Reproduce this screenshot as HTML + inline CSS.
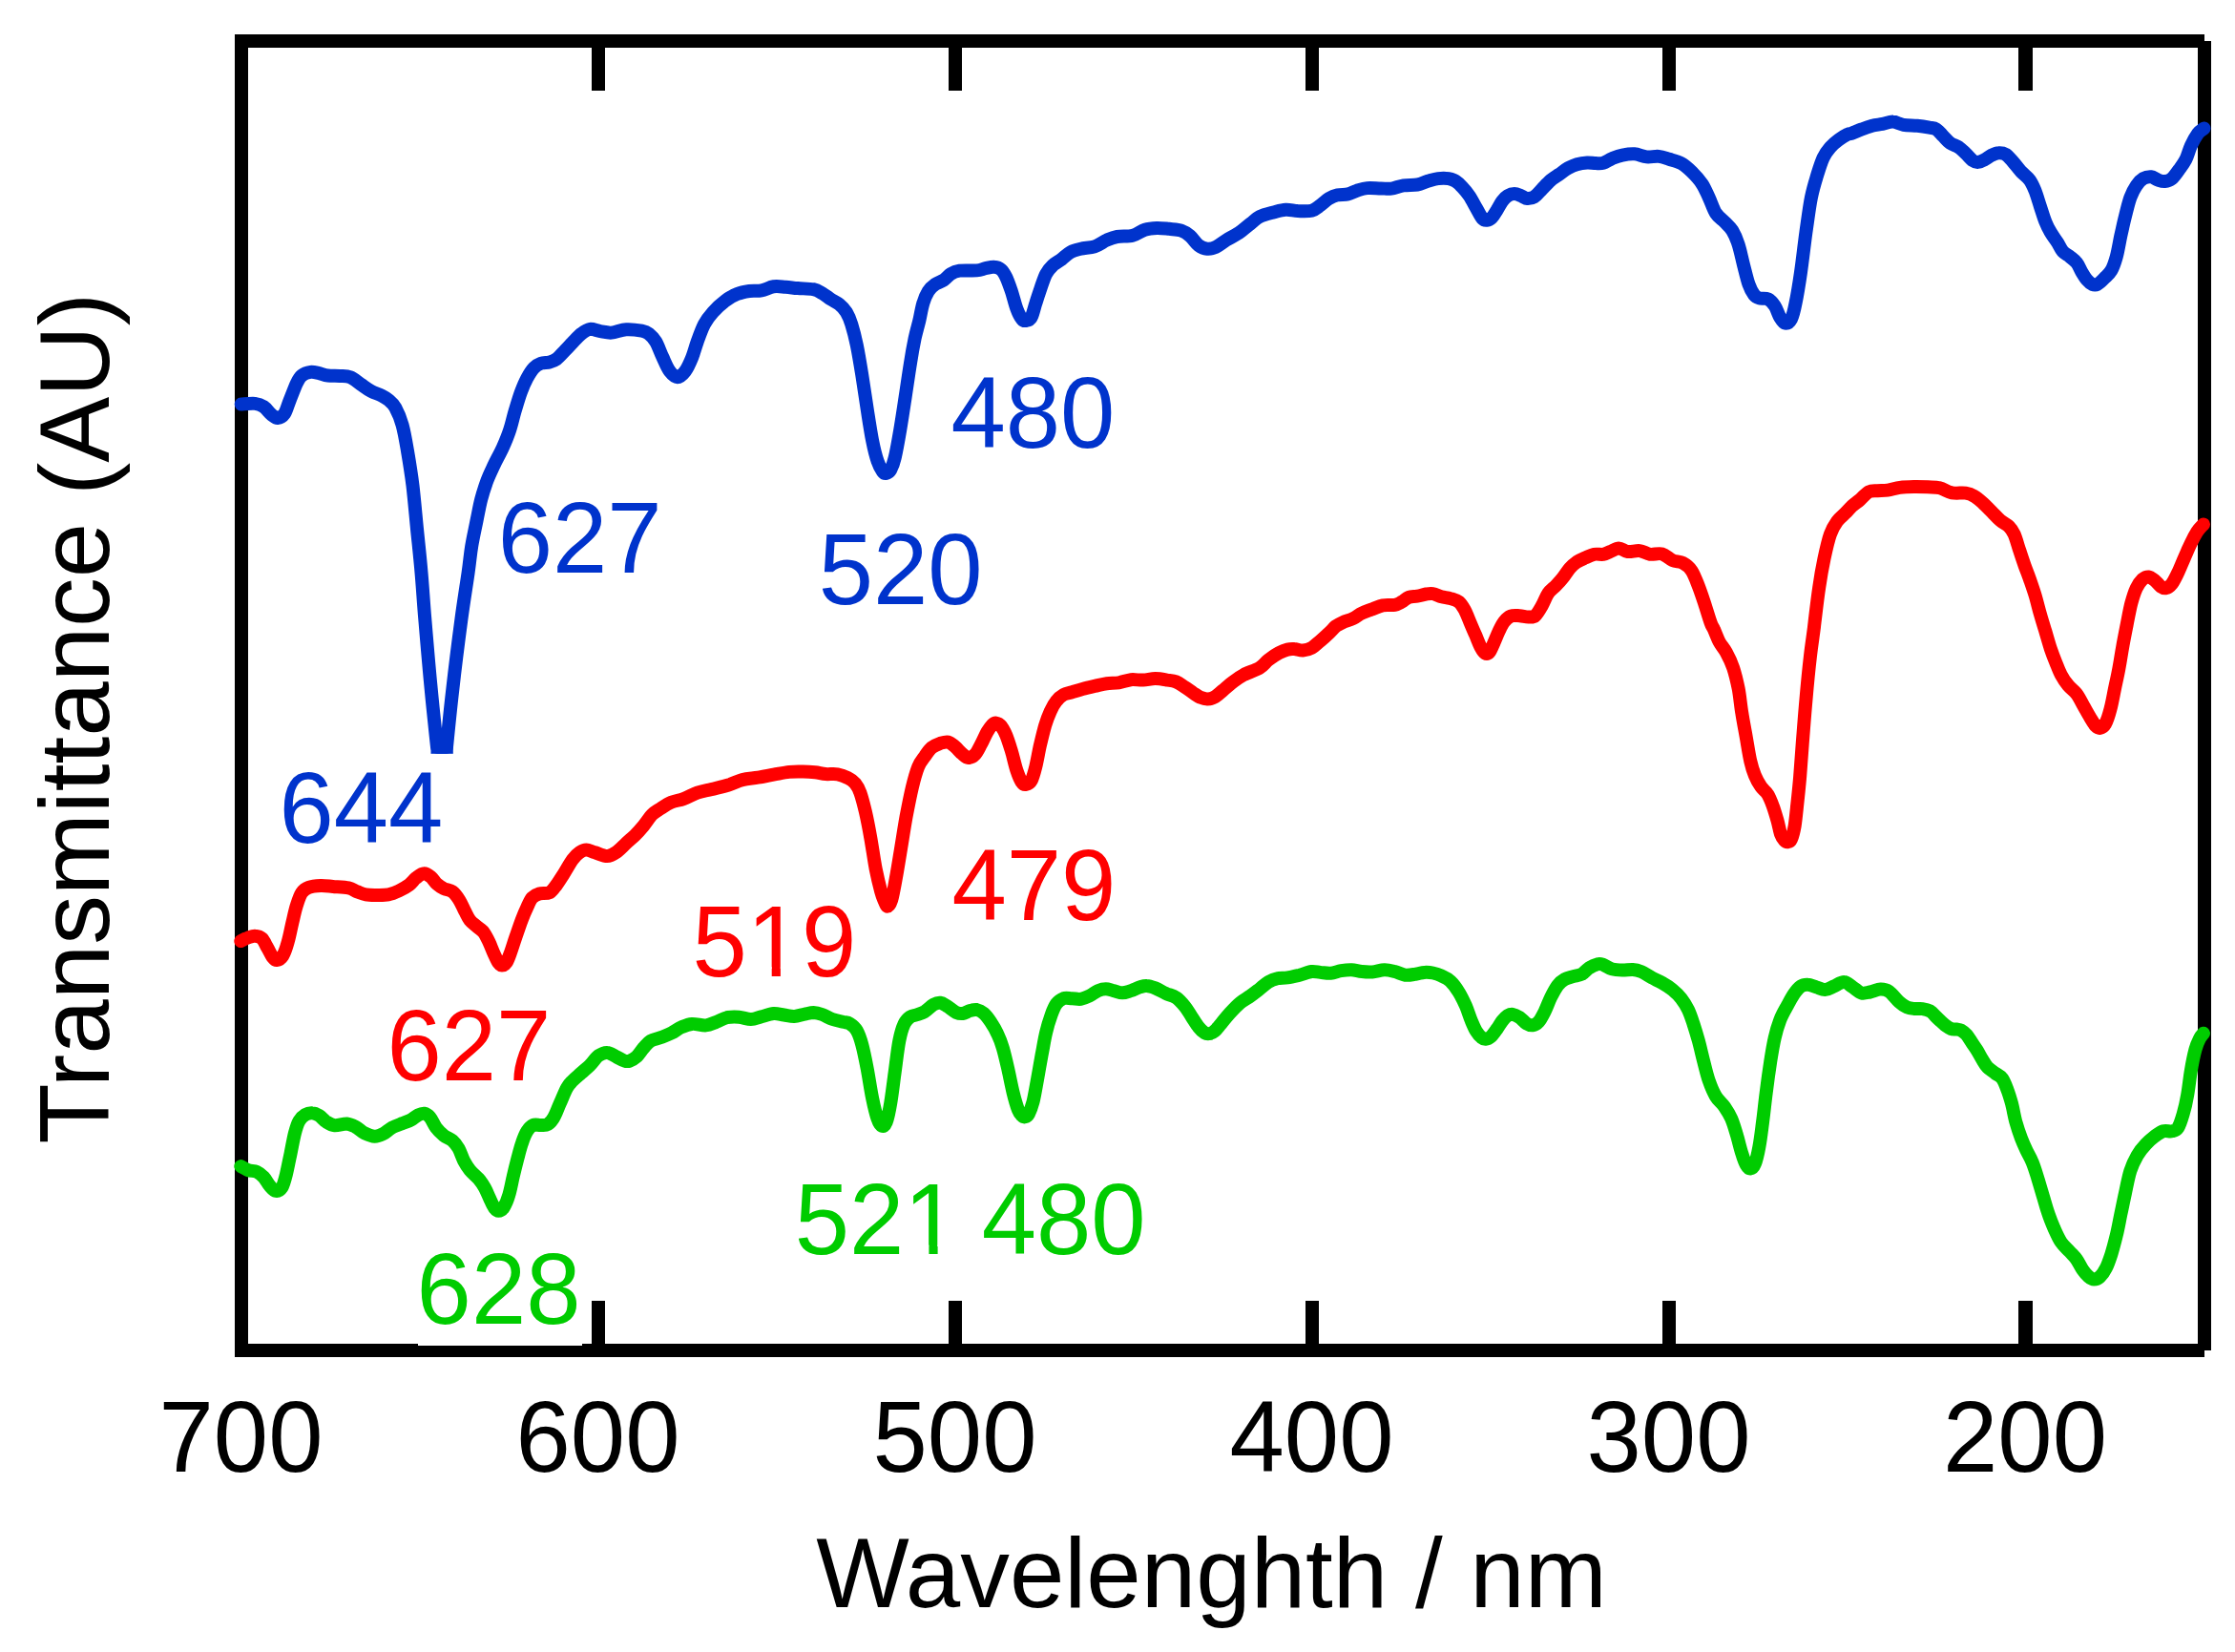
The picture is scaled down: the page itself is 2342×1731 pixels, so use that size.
<!DOCTYPE html>
<html><head><meta charset="utf-8"><title>Transmittance spectra</title>
<style>
html,body{margin:0;padding:0;background:#fff;overflow:hidden;}
svg{display:block;}
text{font-family:"Liberation Sans",sans-serif;font-size:103px;}
.ax{fill:#000;}
.b{fill:#0033cc;}
.r{fill:#ff0000;}
.g{fill:#00cc00;}
.c{fill:none;stroke-width:14;stroke-linecap:round;stroke-linejoin:round;}
</style></head><body>
<svg width="2342" height="1731" viewBox="0 0 2342 1731">
<rect x="0" y="0" width="2342" height="1731" fill="#fff"/>

<g fill="#000" shape-rendering="crispEdges">
<rect x="246" y="36" width="14" height="1386"/>
<rect x="246" y="36" width="2064" height="14"/>
<rect x="246" y="1408" width="2064" height="14"/>
<rect x="2303" y="43" width="14" height="1372"/>
<rect x="620" y="50" width="14" height="45"/>
<rect x="620" y="1363" width="14" height="45"/>
<rect x="994" y="50" width="14" height="45"/>
<rect x="994" y="1363" width="14" height="45"/>
<rect x="1368" y="50" width="14" height="45"/>
<rect x="1368" y="1363" width="14" height="45"/>
<rect x="1742" y="50" width="14" height="45"/>
<rect x="1742" y="1363" width="14" height="45"/>
<rect x="2115" y="50" width="15" height="45"/>
<rect x="2115" y="1363" width="15" height="45"/>
</g>
<path class="c" stroke="#00cc00" d="M252.3 1222.1C253.6 1222.8 257.2 1225.1 260.0 1226.1C262.8 1227.1 266.3 1226.7 269.1 1227.9C271.8 1229.1 274.0 1231.0 276.3 1233.4C278.6 1235.8 280.6 1240.0 282.7 1242.5C284.8 1244.9 286.9 1247.6 289.0 1247.9C291.1 1248.2 293.6 1247.1 295.4 1244.3C297.2 1241.4 298.4 1236.6 299.9 1230.6C301.4 1224.7 302.9 1216.1 304.5 1208.9C306.0 1201.6 307.5 1192.8 309.0 1187.1C310.5 1181.3 311.7 1177.5 313.5 1174.4C315.4 1171.2 317.6 1169.4 319.9 1168.0C322.2 1166.6 324.7 1166.0 327.2 1166.2C329.6 1166.3 332.0 1167.4 334.4 1168.9C336.8 1170.4 339.0 1173.5 341.7 1175.3C344.4 1177.0 347.1 1178.9 350.8 1179.3C354.4 1179.6 359.8 1177.2 363.5 1177.4C367.1 1177.7 369.5 1179.1 372.5 1180.7C375.6 1182.3 378.3 1185.4 381.6 1187.1C385.0 1188.7 389.2 1190.6 392.5 1190.7C395.8 1190.9 398.6 1189.5 401.6 1188.0C404.6 1186.5 407.3 1183.4 410.7 1181.6C414.0 1179.8 418.2 1178.4 421.6 1177.1C424.9 1175.7 427.9 1174.9 430.6 1173.5C433.4 1172.0 435.6 1169.7 437.9 1168.6C440.2 1167.4 442.1 1166.4 444.3 1166.7C446.4 1167.1 448.5 1168.2 450.6 1170.7C452.7 1173.2 454.6 1178.4 457.0 1181.6C459.4 1184.8 462.3 1187.5 465.1 1189.8C468.0 1192.1 471.7 1193.0 474.2 1195.2C476.8 1197.5 478.6 1199.9 480.6 1203.4C482.5 1206.9 484.1 1212.3 486.0 1216.1C488.0 1219.9 489.8 1222.9 492.4 1226.1C495.0 1229.3 498.9 1232.2 501.5 1235.2C504.0 1238.2 505.8 1240.8 507.8 1244.3C509.8 1247.7 511.6 1252.6 513.3 1256.1C514.9 1259.5 516.3 1263.0 517.8 1265.1C519.3 1267.3 520.7 1268.8 522.3 1268.8C524.0 1268.8 526.0 1267.9 527.8 1265.1C529.6 1262.4 531.6 1257.9 533.2 1252.4C534.9 1247.0 536.3 1238.8 537.8 1232.5C539.3 1226.1 540.8 1220.1 542.3 1214.3C543.8 1208.6 545.2 1202.8 546.9 1198.0C548.5 1193.1 550.3 1188.4 552.3 1185.3C554.3 1182.1 556.2 1180.0 558.7 1178.9C561.1 1177.8 564.3 1179.1 566.8 1178.9C569.4 1178.8 571.8 1179.4 574.1 1178.0C576.4 1176.6 578.3 1174.4 580.4 1170.7C582.6 1167.1 584.5 1161.3 586.8 1156.2C589.1 1151.1 591.9 1143.8 594.1 1139.9C596.3 1135.9 597.5 1135.1 600.0 1132.5C602.5 1129.9 606.1 1127.0 609.1 1124.3C612.1 1121.6 615.1 1119.2 618.2 1116.2C621.2 1113.1 624.2 1108.4 627.2 1106.2C630.3 1104.0 633.3 1102.7 636.3 1102.9C639.3 1103.0 642.4 1105.6 645.4 1107.1C648.4 1108.5 652.1 1110.9 654.5 1111.6C656.9 1112.4 657.8 1112.4 659.9 1111.6C662.0 1110.9 664.8 1109.3 667.2 1107.1C669.6 1104.8 672.0 1100.7 674.4 1098.0C676.9 1095.3 678.7 1092.5 681.7 1090.7C684.7 1088.9 689.0 1088.5 692.6 1087.1C696.2 1085.7 699.9 1084.4 703.5 1082.6C707.1 1080.7 710.8 1077.8 714.4 1076.2C718.0 1074.6 721.0 1073.2 725.3 1072.9C729.5 1072.6 735.6 1074.8 739.8 1074.4C744.0 1074.0 747.1 1072.1 750.7 1070.8C754.3 1069.4 757.7 1067.1 761.6 1066.2C765.5 1065.4 770.1 1065.4 774.3 1065.7C778.5 1066.0 783.1 1068.1 787.0 1068.0C791.0 1068.0 794.0 1066.3 797.9 1065.3C801.8 1064.3 806.7 1062.3 810.6 1062.0C814.6 1061.7 817.9 1063.0 821.5 1063.5C825.1 1064.0 828.8 1065.1 832.4 1064.9C836.0 1064.8 840.0 1063.2 843.3 1062.6C846.6 1062.0 849.4 1061.1 852.4 1061.1C855.4 1061.2 858.1 1061.8 861.5 1063.0C864.8 1064.1 868.7 1066.7 872.4 1068.0C876.0 1069.3 880.2 1070.0 883.3 1070.8C886.3 1071.5 888.1 1071.1 890.5 1072.6C892.9 1074.1 895.7 1076.2 897.8 1079.8C899.9 1083.5 901.4 1087.7 903.2 1094.4C905.0 1101.0 906.9 1110.4 908.7 1119.8C910.5 1129.2 912.3 1141.9 914.1 1150.6C915.9 1159.4 917.9 1167.6 919.6 1172.4C921.2 1177.3 922.6 1179.1 924.1 1179.7C925.6 1180.3 927.1 1180.0 928.6 1176.1C930.2 1172.1 931.7 1164.9 933.2 1156.1C934.7 1147.3 936.2 1134.3 937.7 1123.4C939.2 1112.5 940.6 1099.2 942.3 1090.7C943.9 1082.3 945.7 1076.8 947.7 1072.6C949.7 1068.3 952.0 1066.8 954.1 1065.3C956.1 1063.8 957.5 1064.4 960.0 1063.5C962.5 1062.6 966.1 1061.7 969.1 1059.9C972.1 1058.0 975.4 1054.1 978.2 1052.6C980.9 1051.1 983.0 1050.5 985.4 1050.8C987.8 1051.1 990.0 1052.8 992.7 1054.4C995.4 1056.1 999.0 1059.5 1001.8 1060.8C1004.5 1062.0 1006.6 1062.3 1009.0 1062.0C1011.4 1061.7 1013.9 1059.6 1016.3 1059.0C1018.7 1058.3 1021.1 1057.6 1023.5 1058.0C1026.0 1058.5 1028.4 1059.6 1030.8 1061.7C1033.2 1063.8 1035.7 1067.1 1038.1 1070.8C1040.5 1074.4 1043.2 1078.9 1045.3 1083.5C1047.5 1088.0 1049.0 1091.9 1050.8 1098.0C1052.6 1104.0 1054.4 1111.9 1056.2 1119.8C1058.0 1127.7 1059.9 1137.9 1061.7 1145.2C1063.5 1152.5 1065.6 1159.4 1067.1 1163.4C1068.6 1167.3 1069.6 1167.7 1070.8 1168.8C1071.9 1170.0 1072.8 1170.6 1074.0 1170.3C1075.2 1170.0 1076.6 1169.7 1078.0 1167.0C1079.4 1164.3 1081.0 1160.3 1082.6 1154.3C1084.1 1148.2 1085.6 1138.8 1087.1 1130.7C1088.6 1122.5 1090.1 1113.4 1091.6 1105.3C1093.2 1097.1 1094.5 1088.6 1096.2 1081.7C1097.8 1074.7 1099.8 1068.5 1101.6 1063.5C1103.4 1058.5 1105.0 1054.6 1107.1 1051.7C1109.2 1048.8 1111.6 1047.2 1114.3 1046.2C1117.1 1045.3 1120.4 1046.2 1123.4 1046.2C1126.4 1046.3 1129.5 1047.2 1132.5 1046.8C1135.5 1046.3 1138.5 1045.0 1141.6 1043.5C1144.6 1042.1 1147.8 1039.3 1150.6 1038.1C1153.5 1036.9 1156.1 1036.3 1158.8 1036.3C1161.5 1036.3 1164.1 1037.4 1167.0 1038.1C1169.9 1038.7 1173.0 1040.3 1176.1 1040.3C1179.1 1040.3 1182.1 1039.0 1185.1 1038.1C1188.2 1037.1 1191.5 1035.3 1194.2 1034.4C1196.9 1033.6 1198.8 1032.8 1201.5 1033.0C1204.2 1033.1 1207.2 1034.1 1210.6 1035.4C1213.9 1036.7 1217.8 1039.1 1221.5 1040.8C1225.1 1042.5 1229.0 1043.1 1232.4 1045.3C1235.7 1047.6 1238.7 1051.1 1241.4 1054.4C1244.2 1057.7 1246.3 1061.7 1248.7 1065.3C1251.1 1068.9 1253.7 1073.4 1256.0 1076.2C1258.2 1079.0 1260.5 1081.0 1262.3 1082.2C1264.1 1083.3 1265.2 1083.3 1266.9 1083.1C1268.5 1082.9 1270.2 1082.5 1272.3 1080.7C1274.4 1079.0 1276.8 1075.8 1279.6 1072.6C1282.3 1069.4 1285.3 1065.3 1288.6 1061.7C1292.0 1058.0 1295.9 1053.8 1299.5 1050.8C1303.2 1047.8 1307.0 1046.0 1310.4 1043.5C1313.8 1041.1 1316.9 1038.6 1320.0 1036.2C1323.1 1033.7 1326.1 1030.7 1329.1 1028.9C1332.1 1027.1 1334.8 1026.0 1338.2 1025.3C1341.5 1024.5 1345.1 1025.0 1349.1 1024.4C1353.0 1023.8 1357.5 1022.7 1361.8 1021.7C1366.0 1020.6 1370.8 1018.5 1374.5 1018.0C1378.1 1017.6 1380.2 1018.6 1383.5 1018.9C1386.9 1019.2 1390.8 1020.1 1394.4 1019.8C1398.1 1019.5 1401.7 1017.7 1405.3 1017.1C1409.0 1016.5 1412.6 1016.1 1416.2 1016.2C1419.9 1016.4 1423.5 1017.7 1427.1 1018.0C1430.8 1018.4 1434.1 1018.7 1438.0 1018.4C1442.0 1018.1 1446.8 1016.3 1450.7 1016.2C1454.7 1016.1 1458.0 1017.1 1461.6 1018.0C1465.3 1018.9 1468.9 1021.2 1472.5 1021.7C1476.2 1022.1 1480.1 1021.2 1483.4 1020.7C1486.7 1020.3 1489.5 1019.1 1492.5 1018.9C1495.5 1018.7 1498.5 1018.9 1501.6 1019.5C1504.6 1020.1 1507.6 1021.1 1510.6 1022.6C1513.7 1024.0 1516.7 1025.1 1519.7 1028.0C1522.8 1030.9 1526.1 1035.4 1528.8 1039.8C1531.5 1044.2 1534.0 1049.5 1536.1 1054.3C1538.2 1059.2 1539.7 1064.5 1541.5 1068.9C1543.3 1073.2 1545.1 1077.6 1547.0 1080.7C1548.8 1083.7 1550.7 1085.7 1552.4 1087.0C1554.1 1088.4 1555.3 1089.0 1556.9 1088.8C1558.6 1088.7 1560.4 1087.9 1562.4 1086.1C1564.4 1084.3 1566.8 1080.7 1568.8 1077.9C1570.7 1075.2 1572.4 1072.0 1574.2 1069.8C1576.0 1067.5 1577.8 1065.5 1579.6 1064.3C1581.5 1063.2 1583.0 1062.6 1585.1 1062.9C1587.2 1063.2 1589.9 1064.5 1592.4 1066.1C1594.8 1067.7 1597.3 1071.1 1599.6 1072.5C1601.9 1073.9 1603.9 1074.6 1606.0 1074.3C1608.1 1074.0 1610.2 1073.1 1612.3 1070.7C1614.4 1068.3 1616.6 1064.0 1618.7 1059.8C1620.8 1055.5 1622.8 1049.8 1625.0 1045.3C1627.3 1040.7 1629.9 1035.7 1632.3 1032.5C1634.7 1029.4 1636.8 1027.8 1639.6 1026.2C1642.3 1024.6 1645.6 1024.0 1648.6 1023.1C1651.7 1022.2 1655.0 1022.2 1657.7 1020.7C1660.4 1019.3 1662.3 1016.1 1665.0 1014.4C1667.7 1012.6 1671.6 1010.8 1674.1 1010.2C1676.6 1009.6 1677.5 1010.0 1680.0 1010.8C1682.5 1011.7 1685.7 1014.4 1689.1 1015.4C1692.4 1016.3 1696.3 1016.5 1700.0 1016.6C1703.6 1016.7 1707.5 1015.7 1710.9 1015.9C1714.2 1016.1 1716.6 1016.7 1719.9 1018.1C1723.3 1019.5 1727.2 1022.5 1730.8 1024.4C1734.5 1026.4 1738.1 1027.8 1741.7 1029.9C1745.4 1032.0 1749.3 1034.4 1752.6 1037.1C1756.0 1039.9 1759.0 1042.7 1761.7 1046.2C1764.4 1049.7 1766.9 1053.6 1769.0 1058.0C1771.1 1062.4 1772.6 1067.1 1774.4 1072.5C1776.2 1078.0 1778.0 1084.0 1779.9 1090.7C1781.7 1097.4 1783.5 1105.5 1785.3 1112.5C1787.1 1119.5 1788.6 1126.4 1790.8 1132.5C1792.9 1138.5 1795.3 1144.3 1798.0 1148.8C1800.7 1153.3 1804.4 1155.8 1807.1 1159.7C1809.8 1163.6 1812.2 1167.6 1814.4 1172.4C1816.5 1177.3 1818.0 1182.7 1819.8 1188.8C1821.6 1194.8 1823.6 1203.4 1825.3 1208.7C1826.9 1214.0 1828.3 1217.9 1829.8 1220.5C1831.3 1223.2 1832.8 1224.7 1834.3 1224.5C1835.8 1224.4 1837.4 1223.5 1838.9 1219.6C1840.4 1215.8 1842.1 1208.7 1843.4 1201.5C1844.8 1194.2 1845.8 1185.4 1847.0 1176.0C1848.3 1166.7 1849.3 1155.8 1850.7 1145.2C1852.0 1134.6 1853.7 1122.2 1855.2 1112.5C1856.7 1102.8 1858.1 1094.3 1859.8 1087.1C1861.4 1079.8 1863.1 1074.4 1865.2 1068.9C1867.3 1063.5 1870.0 1058.9 1872.5 1054.4C1874.9 1049.9 1877.3 1045.2 1879.7 1041.7C1882.1 1038.2 1884.6 1035.2 1887.0 1033.5C1889.4 1031.8 1891.5 1031.5 1894.3 1031.7C1897.0 1031.8 1900.3 1033.5 1903.3 1034.4C1906.4 1035.3 1909.4 1037.3 1912.4 1037.1C1915.4 1037.0 1918.2 1034.9 1921.5 1033.5C1924.8 1032.1 1929.1 1028.8 1932.4 1029.0C1935.7 1029.1 1938.4 1032.5 1941.5 1034.4C1944.5 1036.3 1947.5 1039.6 1950.5 1040.4C1953.6 1041.3 1956.3 1040.1 1959.6 1039.5C1962.9 1038.9 1967.2 1036.7 1970.5 1036.6C1973.8 1036.5 1976.3 1036.8 1979.6 1039.0C1982.8 1041.2 1986.9 1047.1 1990.0 1049.8C1993.1 1052.6 1995.4 1054.2 1998.2 1055.4C2000.9 1056.6 2003.6 1056.7 2006.3 1057.0C2009.1 1057.3 2011.8 1056.7 2014.5 1057.1C2017.2 1057.5 2020.4 1058.3 2022.7 1059.5C2025.0 1060.8 2026.3 1062.9 2028.1 1064.7C2029.9 1066.5 2031.8 1068.4 2033.6 1070.0C2035.4 1071.7 2037.2 1073.3 2039.0 1074.7C2040.8 1076.0 2042.7 1077.4 2044.5 1078.0C2046.3 1078.7 2048.1 1078.2 2049.9 1078.5C2051.7 1078.8 2053.6 1078.9 2055.4 1079.8C2057.2 1080.8 2059.0 1082.2 2060.8 1084.3C2062.6 1086.4 2064.4 1089.8 2066.3 1092.5C2068.1 1095.2 2069.9 1097.6 2071.7 1100.5C2073.5 1103.5 2075.4 1107.1 2077.2 1110.1C2079.0 1113.0 2080.3 1115.7 2082.5 1118.1C2084.8 1120.5 2088.1 1122.5 2090.7 1124.5C2093.3 1126.4 2095.8 1127.0 2098.0 1129.9C2100.1 1132.8 2101.7 1137.3 2103.4 1141.7C2105.1 1146.1 2106.4 1150.5 2108.0 1156.2C2109.5 1162.0 2110.8 1170.2 2112.5 1176.2C2114.2 1182.3 2116.1 1187.7 2117.9 1192.5C2119.8 1197.4 2121.4 1201.0 2123.4 1205.3C2125.4 1209.5 2127.8 1213.1 2129.7 1218.0C2131.7 1222.8 2133.4 1228.6 2135.2 1234.3C2137.0 1240.1 2138.8 1246.4 2140.6 1252.5C2142.5 1258.5 2144.1 1264.9 2146.1 1270.6C2148.0 1276.4 2150.2 1281.8 2152.4 1287.0C2154.7 1292.1 2157.0 1297.4 2159.7 1301.5C2162.4 1305.6 2166.1 1308.4 2168.8 1311.5C2171.5 1314.5 2173.8 1316.5 2176.0 1319.6C2178.3 1322.8 2180.3 1327.5 2182.4 1330.5C2184.5 1333.6 2186.8 1336.1 2188.8 1337.8C2190.7 1339.5 2192.2 1340.5 2194.2 1340.5C2196.2 1340.5 2198.4 1339.8 2200.6 1337.8C2202.7 1335.8 2204.9 1332.7 2206.9 1328.7C2208.9 1324.8 2210.5 1319.9 2212.4 1314.2C2214.2 1308.4 2216.1 1301.2 2217.8 1294.2C2219.5 1287.3 2220.8 1279.7 2222.3 1272.4C2223.9 1265.2 2225.2 1258.2 2226.9 1250.6C2228.5 1243.1 2230.2 1233.7 2232.3 1227.0C2234.4 1220.4 2236.9 1215.4 2239.6 1210.7C2242.3 1206.0 2245.6 1202.2 2248.7 1198.9C2251.7 1195.6 2254.7 1193.0 2257.7 1190.7C2260.8 1188.5 2263.8 1186.2 2266.8 1185.3C2269.9 1184.4 2273.3 1185.9 2275.9 1185.3C2278.5 1184.7 2280.3 1184.7 2282.3 1181.7C2284.2 1178.6 2286.0 1172.9 2287.7 1167.1C2289.4 1161.4 2290.9 1154.7 2292.2 1147.2C2293.6 1139.6 2294.5 1129.6 2295.9 1121.7C2297.2 1113.9 2298.9 1105.5 2300.4 1099.9C2301.9 1094.3 2303.5 1091.0 2305.0 1088.1C2306.4 1085.3 2308.3 1083.6 2309.0 1082.7"/>
<path class="c" stroke="#ff0000" d="M252.3 986.1C253.6 985.5 257.5 983.4 260.0 982.5C262.5 981.6 264.8 980.5 267.2 980.7C269.7 980.8 272.4 981.4 274.5 983.4C276.6 985.4 278.1 989.3 279.9 992.5C281.8 995.6 283.7 1000.2 285.4 1002.5C287.1 1004.7 288.1 1006.2 289.9 1006.1C291.7 1005.9 294.3 1004.7 296.3 1001.5C298.3 998.4 300.1 992.8 301.7 987.0C303.4 981.3 304.8 973.4 306.3 967.0C307.8 960.7 309.1 954.2 310.8 948.9C312.5 943.6 314.1 938.4 316.3 935.3C318.4 932.1 320.2 931.0 323.5 929.8C326.9 928.6 332.0 928.2 336.2 928.0C340.5 927.9 344.1 928.5 348.9 928.9C353.8 929.3 361.0 929.5 365.3 930.4C369.5 931.3 371.3 933.2 374.4 934.4C377.4 935.5 380.1 936.8 383.4 937.4C386.8 938.1 390.4 938.0 394.3 938.0C398.3 938.0 403.1 938.2 407.0 937.4C411.0 936.7 414.3 935.2 417.9 933.5C421.6 931.7 425.8 929.4 428.8 927.1C431.9 924.8 433.5 921.8 436.1 919.8C438.7 917.9 441.7 915.4 444.3 915.3C446.8 915.1 449.3 917.1 451.5 918.9C453.8 920.7 455.6 924.2 457.9 926.2C460.2 928.2 462.4 929.7 465.1 931.1C467.9 932.5 471.5 932.3 474.2 934.4C476.9 936.4 479.4 940.1 481.5 943.4C483.6 946.8 485.1 950.9 486.9 954.3C488.8 957.8 490.3 961.6 492.4 964.3C494.5 967.0 497.2 968.6 499.6 970.7C502.1 972.8 504.8 974.3 506.9 977.0C509.0 979.8 510.5 983.2 512.4 987.0C514.2 990.8 516.1 996.1 517.8 999.7C519.5 1003.4 521.0 1006.8 522.3 1008.8C523.7 1010.8 524.6 1011.5 526.0 1011.5C527.3 1011.5 529.0 1011.1 530.5 1008.8C532.0 1006.5 533.4 1002.5 535.1 997.9C536.7 993.4 538.5 987.3 540.5 981.6C542.5 975.8 544.9 968.6 546.9 963.4C548.8 958.3 550.5 954.5 552.3 950.7C554.1 946.9 555.6 943.1 557.7 940.7C559.9 938.4 562.0 937.4 565.0 936.5C568.0 935.6 572.9 936.8 575.9 935.3C578.9 933.7 580.7 930.3 583.2 927.1C585.6 923.9 587.6 920.6 590.4 916.2C593.2 911.8 597.2 904.4 600.0 900.6C602.8 896.8 604.8 895.0 607.3 893.3C609.7 891.7 611.8 890.6 614.5 890.6C617.2 890.6 620.0 892.3 623.6 893.3C627.2 894.4 632.7 897.0 636.3 897.0C639.9 897.0 642.1 895.6 645.4 893.3C648.7 891.1 653.0 886.4 656.3 883.4C659.6 880.3 662.3 878.2 665.4 875.2C668.4 872.2 671.4 868.8 674.4 865.2C677.5 861.6 680.5 856.4 683.5 853.4C686.5 850.4 689.3 849.2 692.6 847.0C695.9 844.9 699.6 842.4 703.5 840.7C707.4 839.0 711.7 838.7 716.2 837.1C720.7 835.4 725.9 832.4 730.7 830.7C735.6 829.0 739.8 828.4 745.3 827.1C750.7 825.7 758.0 824.2 763.4 822.5C768.9 820.9 772.8 818.4 777.9 817.1C783.1 815.8 788.8 815.6 794.3 814.7C799.7 813.8 805.2 812.6 810.6 811.6C816.1 810.7 821.8 809.4 827.0 808.9C832.1 808.4 836.9 808.5 841.5 808.6C846.0 808.6 850.3 808.9 854.2 809.3C858.1 809.7 861.2 810.8 865.1 811.1C869.0 811.4 873.9 810.6 877.8 811.3C881.7 812.0 885.7 813.7 888.7 815.3C891.7 816.8 893.8 818.1 896.0 820.7C898.1 823.3 899.6 825.7 901.4 830.7C903.2 835.7 905.0 842.8 906.9 850.7C908.7 858.5 910.5 867.9 912.3 877.9C914.1 887.9 915.9 901.2 917.7 910.6C919.6 920.0 921.7 928.6 923.2 934.2C924.7 939.8 925.7 941.6 926.8 944.2C928.0 946.8 928.9 949.8 930.1 949.6C931.3 949.5 932.7 948.0 934.1 943.3C935.5 938.6 937.0 930.6 938.6 921.5C940.3 912.4 942.3 899.7 944.1 888.8C945.9 877.9 947.6 866.7 949.5 856.1C951.5 845.5 953.7 834.1 955.8 825.3C957.9 816.6 960.0 809.0 962.2 803.5C964.4 798.1 966.7 795.8 969.1 792.5C971.4 789.1 973.6 785.7 976.3 783.4C979.1 781.1 982.5 779.8 985.4 778.8C988.3 777.9 991.0 777.0 993.6 777.6C996.2 778.2 998.4 780.5 1000.9 782.5C1003.3 784.5 1005.8 787.8 1008.1 789.7C1010.4 791.6 1012.2 793.8 1014.5 793.9C1016.7 794.1 1019.5 793.0 1021.7 790.6C1024.0 788.3 1026.0 783.7 1028.1 779.8C1030.2 775.8 1032.5 770.4 1034.4 767.0C1036.4 763.7 1038.3 761.0 1039.9 759.4C1041.5 757.8 1042.4 757.4 1043.9 757.6C1045.4 757.8 1047.2 758.5 1049.0 760.7C1050.7 762.9 1052.6 766.3 1054.4 770.7C1056.2 775.1 1058.0 781.0 1059.9 787.0C1061.7 793.1 1063.5 801.5 1065.3 807.0C1067.1 812.4 1069.1 817.2 1070.8 819.7C1072.4 822.2 1073.6 822.2 1075.3 821.9C1077.0 821.6 1079.1 821.0 1080.7 817.9C1082.4 814.8 1083.8 809.4 1085.3 803.4C1086.8 797.3 1088.2 788.8 1089.8 781.6C1091.5 774.3 1093.5 765.8 1095.3 759.8C1097.1 753.7 1098.8 749.5 1100.7 745.3C1102.7 741.0 1104.8 737.2 1107.1 734.4C1109.3 731.5 1111.6 729.5 1114.3 728.0C1117.1 726.5 1120.1 726.3 1123.4 725.3C1126.7 724.3 1130.4 723.1 1134.3 722.0C1138.2 721.0 1142.8 719.9 1147.0 718.9C1151.3 718.0 1155.5 716.8 1159.7 716.2C1164.0 715.6 1168.2 716.0 1172.4 715.3C1176.7 714.6 1180.9 712.7 1185.1 712.2C1189.4 711.8 1193.6 712.8 1197.9 712.6C1202.1 712.4 1206.3 711.1 1210.6 711.1C1214.8 711.1 1219.6 712.0 1223.3 712.6C1226.9 713.1 1229.3 713.2 1232.4 714.4C1235.4 715.6 1238.4 717.9 1241.4 719.8C1244.5 721.8 1247.8 724.4 1250.5 726.2C1253.2 728.0 1255.4 729.7 1257.8 730.7C1260.2 731.8 1262.6 732.5 1265.0 732.5C1267.5 732.5 1269.6 732.2 1272.3 730.7C1275.0 729.2 1278.1 726.2 1281.4 723.5C1284.7 720.7 1288.6 717.1 1292.3 714.4C1295.9 711.7 1298.5 709.6 1303.2 707.1C1307.8 704.7 1315.7 702.3 1320.0 699.7C1324.3 697.1 1325.7 694.1 1329.1 691.5C1332.4 689.0 1336.6 686.1 1340.0 684.3C1343.3 682.5 1346.3 681.3 1349.1 680.6C1351.8 679.9 1353.6 679.9 1356.3 680.1C1359.0 680.2 1362.4 681.8 1365.4 681.5C1368.4 681.3 1371.4 680.5 1374.5 678.8C1377.5 677.2 1380.5 674.1 1383.5 671.6C1386.6 669.0 1389.9 666.0 1392.6 663.4C1395.4 660.8 1397.5 658.0 1399.9 656.1C1402.3 654.2 1404.1 653.5 1407.2 652.1C1410.2 650.8 1414.7 649.6 1418.0 648.0C1421.4 646.3 1423.8 644.1 1427.1 642.5C1430.5 640.9 1434.4 639.7 1438.0 638.3C1441.7 637.0 1445.0 635.1 1448.9 634.3C1452.8 633.6 1458.3 634.4 1461.6 633.8C1465.0 633.2 1466.5 632.0 1468.9 630.7C1471.3 629.4 1473.4 626.8 1476.2 625.8C1478.9 624.8 1482.2 625.3 1485.2 624.7C1488.3 624.2 1491.6 623.0 1494.3 622.5C1497.0 622.1 1498.8 621.7 1501.6 622.2C1504.3 622.6 1507.6 624.4 1510.6 625.3C1513.7 626.1 1516.7 626.2 1519.7 627.1C1522.8 628.0 1526.2 628.6 1528.8 630.7C1531.4 632.8 1533.2 636.2 1535.2 639.8C1537.1 643.4 1538.8 648.3 1540.6 652.5C1542.4 656.7 1544.2 661.0 1546.1 665.2C1547.9 669.4 1549.8 674.7 1551.5 677.9C1553.2 681.1 1554.5 683.4 1556.0 684.3C1557.6 685.2 1559.1 685.0 1560.6 683.4C1562.1 681.7 1563.5 677.9 1565.1 674.3C1566.8 670.6 1568.8 665.4 1570.6 661.6C1572.4 657.8 1573.9 654.2 1576.0 651.6C1578.1 648.9 1580.6 646.7 1583.3 645.6C1586.0 644.5 1589.3 645.1 1592.4 645.2C1595.4 645.4 1598.7 646.5 1601.4 646.5C1604.2 646.5 1606.3 647.3 1608.7 645.2C1611.1 643.2 1613.7 638.3 1616.0 634.3C1618.2 630.4 1619.9 625.1 1622.3 621.6C1624.7 618.1 1627.9 616.2 1630.5 613.5C1633.1 610.7 1635.3 608.3 1637.7 605.3C1640.2 602.3 1642.6 598.0 1645.0 595.3C1647.4 592.6 1649.6 590.8 1652.3 588.9C1655.0 587.1 1658.3 585.8 1661.4 584.4C1664.4 583.0 1667.3 581.4 1670.4 580.8C1673.5 580.2 1677.2 581.2 1680.0 580.8C1682.8 580.3 1684.5 579.1 1687.3 578.0C1690.0 577.0 1693.3 574.4 1696.3 574.4C1699.4 574.4 1701.8 577.6 1705.4 578.0C1709.1 578.5 1714.2 576.7 1718.1 577.1C1722.1 577.6 1725.1 580.2 1729.0 580.8C1733.0 581.3 1737.8 579.3 1741.7 580.4C1745.7 581.5 1749.0 585.6 1752.6 587.1C1756.3 588.7 1760.2 588.0 1763.5 589.9C1766.9 591.7 1769.9 593.9 1772.6 598.0C1775.3 602.1 1777.6 608.6 1779.9 614.4C1782.1 620.1 1784.1 626.2 1786.2 632.5C1788.3 638.9 1790.9 647.9 1792.6 652.5C1794.2 657.1 1794.7 656.6 1796.2 660.0C1797.8 663.4 1799.6 668.8 1801.7 672.7C1803.8 676.6 1806.5 679.1 1808.9 683.6C1811.4 688.1 1814.1 693.6 1816.2 699.9C1818.3 706.3 1820.1 713.9 1821.7 721.7C1823.2 729.6 1823.9 738.7 1825.3 747.2C1826.6 755.6 1828.3 764.1 1829.8 772.6C1831.3 781.0 1832.8 791.3 1834.4 798.0C1835.9 804.7 1837.1 808.1 1838.9 812.5C1840.7 816.9 1843.0 821.0 1845.3 824.3C1847.5 827.7 1850.4 829.0 1852.5 832.5C1854.6 836.0 1856.3 840.7 1858.0 845.2C1859.6 849.7 1861.1 854.9 1862.5 859.7C1863.9 864.6 1864.9 870.8 1866.1 874.3C1867.3 877.7 1868.6 879.3 1869.8 880.6C1871.0 881.9 1872.2 882.5 1873.4 882.2C1874.6 882.0 1875.8 882.2 1877.0 879.3C1878.2 876.5 1879.6 871.5 1880.7 865.2C1881.7 858.9 1882.5 850.0 1883.4 841.6C1884.3 833.1 1885.2 824.9 1886.1 814.3C1887.0 803.7 1887.8 791.6 1888.8 778.0C1889.9 764.4 1891.1 747.8 1892.5 732.6C1893.8 717.5 1895.6 699.3 1897.0 687.2C1898.4 675.1 1899.9 665.8 1900.6 660.0C1901.4 654.2 1900.6 659.8 1901.5 652.5C1902.4 645.2 1904.4 627.4 1906.1 616.2C1907.7 605.0 1909.5 594.7 1911.5 585.3C1913.5 575.9 1915.6 566.4 1917.9 559.9C1920.1 553.4 1922.4 550.1 1925.1 546.3C1927.8 542.5 1931.7 539.8 1934.2 537.2C1936.7 534.6 1937.5 533.1 1940.0 530.9C1942.5 528.6 1946.1 526.2 1949.1 523.6C1952.1 521.0 1955.1 517.0 1958.2 515.4C1961.2 513.9 1963.9 514.5 1967.2 514.2C1970.6 513.9 1974.2 514.2 1978.1 513.6C1982.1 513.1 1986.3 511.5 1990.8 510.9C1995.4 510.3 2000.5 510.1 2005.4 510.0C2010.2 509.9 2015.4 510.1 2019.9 510.3C2024.4 510.6 2028.4 510.3 2032.6 511.3C2036.8 512.3 2040.8 515.4 2045.3 516.3C2049.9 517.2 2055.9 516.1 2059.8 516.7C2063.8 517.3 2065.9 518.2 2068.9 520.0C2071.9 521.7 2075.0 524.5 2078.0 527.2C2081.0 530.0 2084.0 533.3 2087.1 536.3C2090.1 539.3 2093.1 542.8 2096.2 545.4C2099.2 548.0 2102.8 549.3 2105.2 551.7C2107.7 554.2 2108.9 555.8 2110.7 559.9C2112.5 564.0 2114.3 570.8 2116.1 576.3C2117.9 581.7 2119.8 587.5 2121.6 592.6C2123.4 597.7 2125.2 602.0 2127.0 607.1C2128.8 612.3 2130.6 617.4 2132.5 623.5C2134.3 629.5 2136.1 637.1 2137.9 643.4C2139.7 649.8 2141.5 655.5 2143.4 661.6C2145.2 667.7 2147.0 674.3 2148.8 679.8C2150.6 685.2 2152.4 689.7 2154.3 694.3C2156.1 698.8 2157.6 703.1 2159.7 707.0C2161.8 710.9 2164.2 714.6 2167.0 717.9C2169.7 721.2 2173.3 723.3 2176.0 727.0C2178.8 730.6 2180.9 735.4 2183.3 739.7C2185.7 743.9 2188.4 748.9 2190.6 752.4C2192.7 755.9 2194.4 758.8 2196.0 760.6C2197.7 762.3 2198.9 763.2 2200.6 762.9C2202.2 762.6 2204.2 762.0 2206.0 758.7C2207.8 755.5 2209.8 749.5 2211.4 743.3C2213.1 737.1 2214.5 728.8 2216.0 721.5C2217.5 714.3 2219.2 707.0 2220.5 699.7C2221.9 692.5 2222.8 685.5 2224.2 677.9C2225.5 670.4 2227.2 661.9 2228.7 654.3C2230.2 646.8 2231.6 638.9 2233.2 632.5C2234.9 626.2 2236.7 620.4 2238.7 616.2C2240.7 612.0 2242.9 609.1 2245.0 607.1C2247.2 605.2 2249.3 604.3 2251.4 604.4C2253.5 604.6 2255.6 606.4 2257.7 608.0C2259.9 609.7 2262.1 613.0 2264.1 614.4C2266.1 615.8 2267.6 616.7 2269.6 616.2C2271.5 615.8 2273.8 614.4 2275.9 611.7C2278.0 608.9 2280.1 604.3 2282.3 599.9C2284.4 595.5 2286.3 590.5 2288.6 585.3C2290.9 580.2 2293.6 573.7 2295.9 569.0C2298.1 564.3 2300.1 560.5 2302.2 557.2C2304.4 553.9 2307.8 550.7 2309.0 549.4"/>
<path class="c" stroke="#0033cc" d="M252.7 423.5C255.1 423.4 263.3 422.5 267.2 422.9C271.2 423.4 273.4 424.3 276.3 426.2C279.2 428.1 282.1 432.4 284.5 434.4C286.9 436.3 288.6 438.1 290.8 438.0C293.1 437.8 296.0 436.5 298.1 433.5C300.2 430.4 301.4 425.1 303.5 419.8C305.7 414.5 308.7 406.1 310.8 401.7C312.9 397.3 313.8 395.5 316.3 393.5C318.7 391.5 322.3 390.3 325.3 389.9C328.4 389.5 331.4 390.5 334.4 391.1C337.4 391.8 339.9 393.1 343.5 393.5C347.1 394.0 352.3 393.6 356.2 393.9C360.1 394.2 363.5 393.9 367.1 395.3C370.7 396.8 374.4 400.2 378.0 402.6C381.6 405.0 385.3 407.9 388.9 409.9C392.5 411.8 396.8 412.9 399.8 414.4C402.8 415.9 404.6 416.8 407.0 418.9C409.5 421.0 411.9 422.7 414.3 427.1C416.7 431.5 419.5 437.7 421.6 445.3C423.7 452.8 425.2 461.9 427.0 472.5C428.8 483.1 430.8 495.2 432.5 508.8C434.1 522.4 435.5 539.0 437.0 554.2C438.5 569.4 440.2 584.2 441.5 600.0C442.9 615.7 443.6 628.7 445.3 648.9C447.0 669.2 449.5 699.3 451.7 721.6C453.8 743.9 458.0 782.8 458.0 782.8L468.0 782.8C468.0 782.8 471.8 743.9 474.4 721.6C476.9 699.3 480.7 669.2 483.4 648.9C486.1 628.7 488.8 612.7 490.6 600.0C492.4 587.2 492.7 581.5 494.2 572.4C495.7 563.2 498.0 553.3 499.6 545.1C501.3 536.9 502.4 530.3 504.2 523.3C506.0 516.4 508.3 509.4 510.5 503.4C512.8 497.3 515.1 492.8 517.8 487.0C520.5 481.3 524.2 474.9 526.9 468.9C529.6 462.8 532.0 457.1 534.1 450.7C536.3 444.3 537.6 437.4 539.6 430.7C541.6 424.1 543.8 416.5 545.9 410.8C548.1 405.0 550.0 400.5 552.3 396.2C554.6 392.0 557.1 387.9 559.6 385.3C562.0 382.8 564.1 381.8 566.8 380.8C569.6 379.8 573.2 380.3 575.9 379.5C578.6 378.8 580.4 378.3 583.2 376.3C585.9 374.2 589.4 370.1 592.2 367.2C595.1 364.3 597.2 361.8 600.0 358.9C602.8 356.0 606.1 352.2 609.1 349.8C612.1 347.5 614.8 345.4 618.2 344.9C621.5 344.5 625.3 346.5 629.1 347.1C632.8 347.7 636.3 348.9 640.9 348.6C645.4 348.2 651.0 345.6 656.3 345.3C661.6 345.0 668.7 346.0 672.6 346.7C676.6 347.5 677.5 347.9 679.9 349.8C682.3 351.7 684.7 353.9 687.2 358.0C689.6 362.1 692.0 369.2 694.4 374.3C696.8 379.5 699.1 385.4 701.7 388.9C704.3 392.3 707.1 395.2 709.9 395.2C712.6 395.2 715.4 392.3 718.0 388.9C720.6 385.4 723.2 379.5 725.3 374.3C727.4 369.2 728.6 363.7 730.7 358.0C732.8 352.2 735.3 345.0 738.0 339.8C740.7 334.7 743.4 331.2 747.1 327.1C750.7 323.0 755.5 318.5 759.8 315.3C764.0 312.1 768.3 309.8 772.5 308.1C776.7 306.3 781.0 305.6 785.2 305.0C789.4 304.4 793.7 305.2 797.9 304.4C802.1 303.6 806.4 300.9 810.6 300.3C814.9 299.6 819.1 300.5 823.3 300.8C827.6 301.1 831.2 301.7 836.0 302.1C840.9 302.5 848.1 302.3 852.4 303.2C856.6 304.0 858.4 305.4 861.5 307.2C864.5 308.9 867.5 311.5 870.5 313.5C873.6 315.5 876.9 316.7 879.6 319.0C882.3 321.2 884.8 323.6 886.9 327.1C889.0 330.6 890.5 334.1 892.3 339.8C894.1 345.6 896.0 352.8 897.8 361.6C899.6 370.4 901.4 381.3 903.2 392.5C905.0 403.7 906.9 417.3 908.7 428.8C910.5 440.3 912.3 452.4 914.1 461.5C915.9 470.6 917.7 477.8 919.6 483.3C921.4 488.7 923.5 492.1 925.0 494.2C926.5 496.3 927.3 496.3 928.6 496.0C930.0 495.7 931.7 495.1 933.2 492.4C934.7 489.6 936.1 486.6 937.7 479.6C939.4 472.7 941.4 461.2 943.2 450.6C945.0 440.0 946.8 427.9 948.6 416.1C950.4 404.3 952.4 390.1 954.1 379.8C955.7 369.5 957.2 361.5 958.7 354.2C960.3 346.9 961.8 342.1 963.3 336.0C964.7 330.0 965.7 323.0 967.3 317.9C968.8 312.7 970.6 308.5 972.7 305.2C974.8 301.8 977.2 299.9 980.0 297.9C982.7 295.9 986.3 295.2 989.1 293.4C991.8 291.6 993.6 288.6 996.3 287.0C999.0 285.4 1000.9 284.4 1005.4 283.7C1009.9 283.1 1019.0 283.8 1023.5 283.4C1028.1 283.0 1029.6 281.8 1032.6 281.2C1035.7 280.6 1039.0 279.5 1041.7 279.8C1044.4 280.0 1046.9 280.7 1049.0 282.5C1051.1 284.3 1052.6 286.9 1054.4 290.6C1056.2 294.4 1058.0 299.7 1059.9 305.2C1061.7 310.6 1063.5 318.5 1065.3 323.3C1067.1 328.2 1069.1 332.1 1070.8 334.2C1072.4 336.3 1073.6 336.3 1075.3 336.0C1077.0 335.7 1079.1 335.4 1080.7 332.4C1082.4 329.4 1083.6 323.0 1085.3 317.9C1086.9 312.7 1088.9 306.7 1090.7 301.5C1092.5 296.4 1094.1 291.0 1096.2 287.0C1098.3 283.1 1100.7 280.5 1103.4 277.9C1106.2 275.4 1109.5 273.9 1112.5 271.6C1115.5 269.3 1118.3 266.1 1121.6 264.3C1124.9 262.5 1128.3 261.7 1132.5 260.7C1136.7 259.7 1142.5 259.8 1147.0 258.3C1151.6 256.8 1155.8 253.3 1159.7 251.6C1163.7 249.9 1166.1 248.8 1170.6 248.0C1175.2 247.2 1182.1 247.9 1187.0 246.7C1191.8 245.5 1195.4 242.0 1199.7 240.7C1203.9 239.4 1208.1 239.1 1212.4 238.9C1216.6 238.8 1220.9 239.4 1225.1 239.8C1229.3 240.3 1234.2 240.4 1237.8 241.6C1241.4 242.8 1243.9 244.5 1246.9 247.1C1249.9 249.6 1252.9 254.8 1256.0 257.1C1259.0 259.3 1262.0 260.4 1265.0 260.7C1268.1 261.0 1270.8 260.4 1274.1 258.9C1277.4 257.4 1281.1 254.0 1285.0 251.6C1288.9 249.2 1293.5 247.2 1297.7 244.3C1302.0 241.5 1306.7 237.2 1310.4 234.4C1314.1 231.5 1316.0 229.0 1320.0 227.0C1324.0 225.1 1330.0 223.7 1334.5 222.5C1339.1 221.3 1343.0 220.0 1347.2 219.8C1351.5 219.5 1355.4 220.9 1359.9 221.1C1364.5 221.2 1370.5 221.7 1374.5 220.7C1378.4 219.7 1380.5 217.4 1383.5 215.2C1386.6 213.1 1389.6 209.8 1392.6 208.0C1395.7 206.2 1398.4 205.1 1401.7 204.3C1405.0 203.6 1409.3 204.2 1412.6 203.4C1415.9 202.7 1418.4 200.9 1421.7 199.8C1425.0 198.8 1428.3 197.5 1432.6 197.1C1436.8 196.7 1442.9 197.4 1447.1 197.4C1451.3 197.5 1454.1 198.1 1458.0 197.6C1461.9 197.1 1466.2 195.1 1470.7 194.4C1475.2 193.7 1481.0 194.2 1485.2 193.5C1489.5 192.7 1492.5 190.9 1496.1 189.8C1499.8 188.8 1503.4 187.6 1507.0 187.1C1510.6 186.6 1514.9 186.6 1517.9 187.1C1520.9 187.6 1522.8 188.3 1525.2 189.8C1527.6 191.3 1530.0 193.6 1532.4 196.2C1534.9 198.8 1537.3 201.6 1539.7 205.3C1542.1 208.9 1544.7 214.0 1547.0 218.0C1549.2 221.9 1551.5 226.7 1553.3 228.9C1555.1 231.0 1556.2 230.8 1557.9 230.7C1559.5 230.5 1561.5 229.8 1563.3 228.0C1565.1 226.1 1566.9 222.7 1568.8 219.8C1570.6 216.9 1572.4 213.1 1574.2 210.7C1576.0 208.3 1577.5 206.5 1579.6 205.3C1581.8 204.0 1584.5 203.1 1586.9 203.1C1589.3 203.1 1591.9 204.4 1594.2 205.3C1596.4 206.1 1598.3 207.8 1600.5 208.0C1602.8 208.1 1605.2 207.8 1607.8 206.2C1610.4 204.5 1613.1 200.9 1616.0 198.0C1618.8 195.1 1622.0 191.5 1625.0 188.9C1628.1 186.3 1631.1 184.7 1634.1 182.6C1637.1 180.4 1640.2 177.9 1643.2 176.2C1646.2 174.5 1648.9 173.2 1652.3 172.2C1655.6 171.2 1659.8 170.6 1663.2 170.4C1666.5 170.2 1669.4 171.1 1672.2 171.1C1675.1 171.2 1677.2 171.6 1680.0 170.8C1682.8 170.0 1685.7 167.6 1689.1 166.2C1692.4 164.9 1696.0 163.4 1700.0 162.6C1703.9 161.8 1708.4 161.0 1712.7 161.3C1716.9 161.6 1721.2 164.0 1725.4 164.4C1729.6 164.9 1734.2 163.5 1738.1 163.9C1742.0 164.3 1745.1 165.6 1749.0 166.8C1752.9 168.0 1757.8 169.0 1761.7 171.1C1765.6 173.3 1769.0 176.3 1772.6 179.9C1776.2 183.4 1780.5 188.0 1783.5 192.6C1786.5 197.1 1788.3 202.0 1790.8 207.1C1793.2 212.2 1795.3 219.2 1798.0 223.4C1800.7 227.7 1804.2 229.5 1807.1 232.5C1810.0 235.5 1812.8 237.7 1815.3 241.6C1817.7 245.5 1819.7 250.1 1821.6 256.1C1823.6 262.2 1825.3 271.0 1827.1 277.9C1828.9 284.9 1830.7 292.7 1832.5 297.9C1834.3 303.0 1836.2 306.4 1838.0 308.8C1839.8 311.2 1841.0 311.7 1843.4 312.4C1845.8 313.2 1849.8 312.0 1852.5 313.3C1855.2 314.7 1857.6 317.4 1859.8 320.6C1861.9 323.8 1863.4 329.4 1865.2 332.4C1867.0 335.4 1868.7 338.4 1870.6 338.7C1872.6 339.0 1875.2 337.7 1877.0 334.2C1878.8 330.7 1879.9 326.0 1881.5 317.9C1883.2 309.7 1885.2 297.6 1887.0 285.2C1888.8 272.8 1890.6 256.4 1892.4 243.4C1894.3 230.4 1895.9 217.1 1897.9 207.1C1899.9 197.1 1902.1 190.5 1904.2 183.5C1906.4 176.5 1908.3 170.2 1910.6 165.3C1912.9 160.5 1915.1 157.6 1917.9 154.4C1920.6 151.3 1923.9 148.5 1926.9 146.3C1930.0 144.0 1933.8 141.9 1936.0 140.8C1938.2 139.8 1937.5 140.8 1940.0 139.9C1942.5 139.0 1947.3 136.7 1950.9 135.4C1954.5 134.0 1958.2 132.7 1961.8 131.7C1965.4 130.8 1969.1 130.6 1972.7 129.9C1976.3 129.2 1979.9 127.4 1983.6 127.6C1987.2 127.7 1990.2 130.1 1994.5 130.8C1998.7 131.5 2004.5 131.3 2009.0 131.7C2013.5 132.2 2018.4 133.0 2021.7 133.6C2025.0 134.2 2026.5 133.9 2029.0 135.4C2031.4 136.9 2033.8 140.2 2036.2 142.6C2038.7 145.1 2040.8 147.9 2043.5 149.9C2046.2 151.9 2049.9 152.6 2052.6 154.4C2055.3 156.3 2057.4 158.5 2059.8 160.8C2062.3 163.1 2065.0 166.5 2067.1 168.1C2069.2 169.6 2070.4 170.0 2072.5 169.9C2074.7 169.7 2077.4 168.4 2079.8 167.2C2082.2 165.9 2084.7 163.8 2087.1 162.6C2089.5 161.5 2091.9 160.4 2094.3 160.3C2096.8 160.1 2099.2 160.3 2101.6 161.7C2104.0 163.2 2106.1 165.9 2108.9 169.0C2111.6 172.0 2114.9 176.5 2117.9 179.9C2121.0 183.2 2124.6 185.6 2127.0 188.9C2129.4 192.3 2130.6 195.3 2132.5 199.8C2134.3 204.4 2136.1 210.7 2137.9 216.2C2139.7 221.6 2141.5 228.0 2143.4 232.5C2145.2 237.1 2146.7 239.8 2148.8 243.4C2150.9 247.0 2154.0 251.0 2156.1 254.3C2158.2 257.6 2159.4 261.0 2161.5 263.4C2163.6 265.8 2166.4 266.9 2168.8 268.8C2171.2 270.8 2173.9 272.5 2176.0 275.2C2178.2 277.9 2179.7 282.1 2181.5 285.2C2183.3 288.2 2185.1 291.2 2186.9 293.3C2188.8 295.5 2190.6 297.1 2192.4 297.9C2194.2 298.6 2195.7 298.9 2197.8 297.9C2199.9 296.8 2202.7 294.0 2205.1 291.5C2207.5 289.1 2210.2 287.1 2212.4 283.4C2214.5 279.6 2216.1 274.9 2217.8 268.8C2219.5 262.8 2220.8 254.0 2222.3 247.0C2223.9 240.1 2225.2 233.7 2226.9 227.1C2228.5 220.4 2230.4 212.5 2232.3 207.1C2234.3 201.7 2236.4 197.7 2238.7 194.4C2241.0 191.1 2243.4 188.6 2245.9 187.1C2248.5 185.6 2251.5 185.1 2254.1 185.3C2256.7 185.6 2259.0 187.8 2261.4 188.6C2263.8 189.4 2266.2 190.3 2268.6 190.0C2271.1 189.8 2273.5 189.1 2275.9 187.1C2278.3 185.1 2280.7 181.4 2283.2 178.0C2285.6 174.7 2288.3 171.4 2290.4 167.2C2292.5 162.9 2293.8 157.2 2295.9 152.6C2298.0 148.1 2300.9 142.9 2303.1 139.9C2305.4 136.9 2308.4 135.4 2309.5 134.5"/>
<rect x="451.5" y="780" width="23.3" height="9.8" fill="#0033cc"/>
<rect x="438" y="1300" width="172" height="110" fill="#fff"/>
<text id="l0" class="b" transform="translate(292.5 883.0) scale(1 1.028)">644</text>
<text id="l1" class="b" transform="translate(521.8 599.6) scale(1 1.028)">627</text>
<text id="l2" class="b" transform="translate(857.8 633.4) scale(1 1.028)">520</text>
<text id="l3" class="b" transform="translate(996.4 468.7) scale(1 1.028)">480</text>
<text id="l4" class="r" transform="translate(405.5 1132.0) scale(1 1.028)">627</text>
<text id="l5" class="r" transform="translate(725.4 1023.1) scale(1 1.028)">519</text>
<text id="l6" class="r" transform="translate(997.5 963.9) scale(1 1.028)">479</text>
<text id="l7" class="g" transform="translate(436.6 1387.0) scale(1 1.028)">628</text>
<text id="l8" class="g" transform="translate(832.8 1314.4) scale(1 1.028)">521</text>
<text id="l9" class="g" transform="translate(1028.7 1314.4) scale(1 1.028)">480</text>
<rect x="789.2" y="1013.3" width="19.5" height="11.5" fill="#fff"/>
<rect x="817.9" y="1013.3" width="18.5" height="11.5" fill="#fff"/>
<rect x="953.9" y="1304.6" width="19.5" height="11.5" fill="#fff"/>
<rect x="982.6" y="1304.6" width="18.5" height="11.5" fill="#fff"/>
<text id="t0" class="ax" transform="translate(252.5 1541.5) scale(1 1.028)" text-anchor="middle">700</text>
<text id="t1" class="ax" transform="translate(626.5 1541.5) scale(1 1.028)" text-anchor="middle">600</text>
<text id="t2" class="ax" transform="translate(1000.5 1541.5) scale(1 1.028)" text-anchor="middle">500</text>
<text id="t3" class="ax" transform="translate(1374.5 1541.5) scale(1 1.028)" text-anchor="middle">400</text>
<text id="t4" class="ax" transform="translate(1748.5 1541.5) scale(1 1.028)" text-anchor="middle">300</text>
<text id="t5" class="ax" transform="translate(2122.0 1541.5) scale(1 1.028)" text-anchor="middle">200</text>
<text id="xl" class="ax" x="1269.5" y="1684" text-anchor="middle" style="font-size:103.3px">Wavelenghth / nm</text>
<text id="yl" class="ax" transform="translate(114 752.6) rotate(-90)" text-anchor="middle" style="font-size:103.3px">Transmittance (AU)</text>
</svg></body></html>
